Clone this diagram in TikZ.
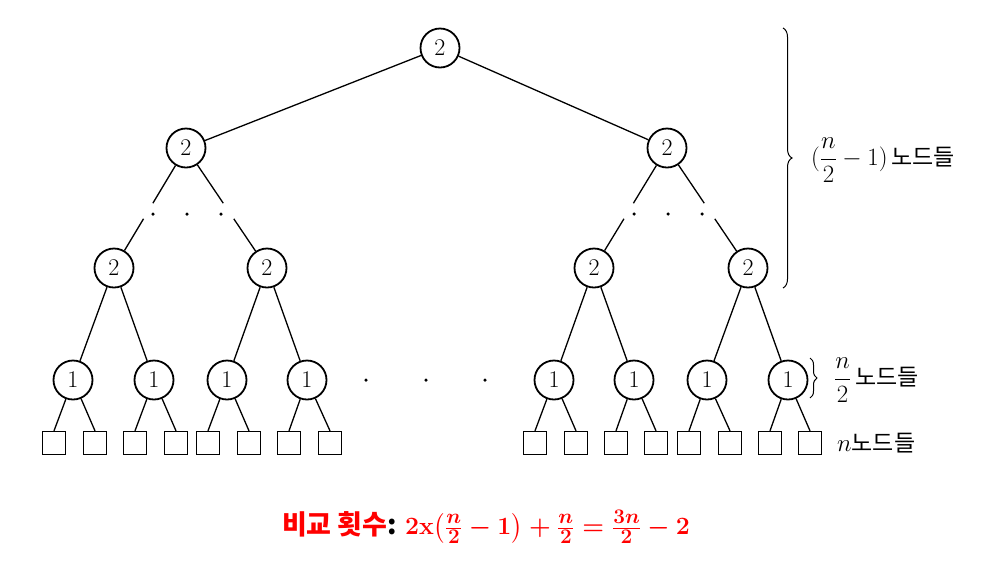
\documentclass[tikz,border=0pt]{standalone}
\usepackage{amsmath}
\usepackage{fontspec}
\usetikzlibrary{decorations.pathreplacing,calc}
\newfontfamily\kr{Noto Sans CJK KR}
\definecolor{fred}{RGB}{255,0,0}
\newcommand{\rfr}[2]{\frac{\hbox{\fontsize{21}{24}\selectfont\boldmath$#1$}}{\hbox{\fontsize{21}{24}\selectfont\boldmath$#2$}}}
\begin{document}
\begin{tikzpicture}[x=1pt,y=-1pt,
  cnode/.style={circle,draw,line width=1.8pt,minimum size=39pt,inner sep=0pt,font=\fontsize{24}{28}\selectfont},
  leaf/.style={rectangle,draw,line width=1.3pt,minimum size=23pt,inner sep=0pt},
  edge/.style={line width=1.3pt},
  dotm/.style={circle,fill,inner sep=0pt,minimum size=3.5pt},
  lab/.style={anchor=west,inner sep=0pt,font=\fontsize{24}{28}\selectfont},
  bracestyle/.style={line width=1pt,decorate}]
\useasboundingbox (0,0) rectangle (1008,574);
% tree nodes
\node[cnode] (r) at (440,48) {2};
\node[cnode] (a) at (186,148) {2};
\node[cnode] (b) at (667,148) {2};
\node[cnode] (a1) at (114,268) {2};
\node[cnode] (a2) at (267,268) {2};
\node[cnode] (b1) at (594,268) {2};
\node[cnode] (b2) at (748,268) {2};
\foreach \n/\x in {c1/73,c2/154,c3/227,c4/307,c5/554,c6/634,c7/707,c8/788}
  \node[cnode] (\n) at (\x,380) {1};
\foreach \n/\x in {l1/54,l2/95,l3/135,l4/176,l5/208,l6/249,l7/289,l8/330,l9/535,l10/576,l11/616,l12/656,l13/689,l14/730,l15/770,l16/810}
  \node[leaf] (\n) at (\x,443) {};
% dots
\foreach \n/\x/\y in {d1/153/214,d2/187/214,d3/221/214,d4/634/214,d5/668/214,d6/702/214,d7/366/380,d8/426/380,d9/485/380}
  \node[dotm] (\n) at (\x,\y) {};
% edges
\draw[edge] (r) -- (a);
\draw[edge] (r) -- (b);
\foreach \p/\q in {a/a1,a/a2,b/b1,b/b2}{
  \coordinate (\p\q s) at ($(\p)!0.46!(\q)$);
  \coordinate (\p\q e) at ($(\p)!0.59!(\q)$);
  \draw[edge] (\p) -- (\p\q s);
  \draw[edge] (\p\q e) -- (\q);
}
\foreach \p/\q in {a1/c1,a1/c2,a2/c3,a2/c4,b1/c5,b1/c6,b2/c7,b2/c8}
  \draw[edge] (\p) -- (\q);
\foreach \p/\q/\s in {c1/l1/l2,c2/l3/l4,c3/l5/l6,c4/l7/l8,c5/l9/l10,c6/l11/l12,c7/l13/l14,c8/l15/l16}{
  \draw[edge] (\p) -- (\q.north);
  \draw[edge] (\p) -- (\s.north);
}
% braces
\coordinate (bt) at (783,28);
\coordinate (bb) at (783,288);
\draw[bracestyle,decoration={brace,amplitude=9pt}] (bt) -- (bb);
\coordinate (st) at (810,358);
\coordinate (sb) at (810,398);
\draw[bracestyle,decoration={brace,amplitude=7pt}] (st) -- (sb);
% labels
\node[lab] (t1) at (811,160) {$\displaystyle(\frac{n}{2}-1)$\,{\kr\fontsize{23}{26}\selectfont 노드들}};
\node[lab] (t2) at (834,380) {$\displaystyle\frac{n}{2}$\,{\kr\fontsize{23}{26}\selectfont 노드들}};
\node[lab] (t3) at (837,443) {$n${\kr\fontsize{23}{26}\selectfont 노드들}};
% bottom formula
\node[inner sep=0pt] (f) at (486,527)
  {{\fontsize{27}{30}\selectfont\textcolor{fred}{\kr\bfseries 비교 횟수}{\kr\bfseries :}}\hspace{8pt}{\fontsize{25}{30}\selectfont\textcolor{fred}{\boldmath$2\mathbf{x}{\left(\rfr{n}{2}-1\right)}+\rfr{n}{2}=\rfr{3n}{2}-2$}}};
\end{tikzpicture}
\end{document}
